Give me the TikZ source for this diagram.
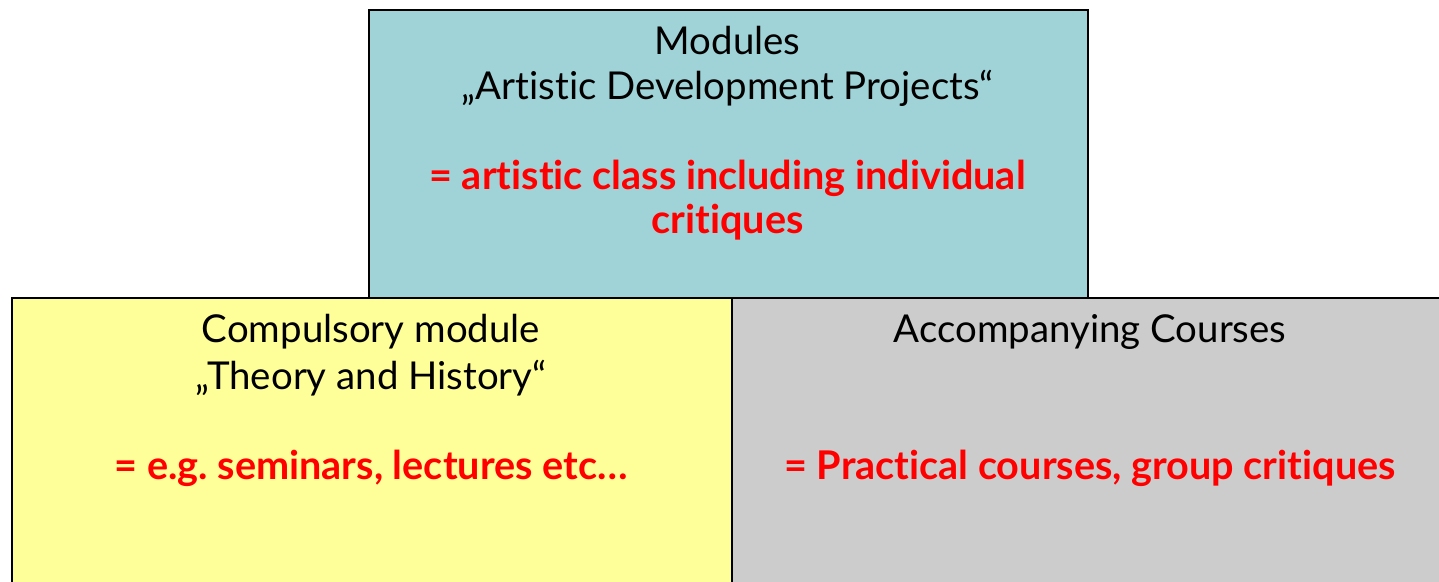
\documentclass[tikz,border=0pt]{standalone}
\usepackage{fontspec}
\setmainfont{Lato}[Ligatures={NoCommon}]
\frenchspacing
\definecolor{tealbox}{HTML}{9FD3D7}
\definecolor{yellowbox}{HTML}{FFFF99}
\definecolor{graybox}{HTML}{CCCCCC}
\definecolor{redtext}{HTML}{FF0000}
\begin{document}
\begin{tikzpicture}[x=0.5pt,y=-0.5pt,
  box/.style={draw=black, line width=1pt, inner sep=0pt, anchor=north west},
  plain/.style={anchor=base, inner sep=0pt, font=\fontsize{19.2}{22}\selectfont},
  redline/.style={plain, text=redtext, font=\fontsize{19.8}{22}\selectfont\bfseries}]
\useasboundingbox (0,0) rectangle (1439,582);
\clip (0,0) rectangle (1439,582);
\node[box, fill=tealbox, minimum width=359.5pt, minimum height=144pt] (top) at (368,9) {};
\node[box, fill=yellowbox, minimum width=360pt, minimum height=160pt] (left) at (11,297) {};
\node[box, fill=graybox, minimum width=360pt, minimum height=160pt] (right) at (731,297) {};
% top texts
\node[plain] (t1) at (727.5,55) {Modules};
\node[plain] (t2) at (727.5,100) {„Artistic Development Projects“};
\node[redline] (t3) at (727.5,190) {= artistic class including individual};
\node[redline] (t4) at (727.5,234) {critiques};
% left texts
\node[plain] (l1) at (371,343) {Compulsory module};
\node[plain] (l2) at (371,389) {„Theory and History“};
\node[redline] (l3) at (371,479) {= e.g.\ seminars, lectures etc…};
% right texts
\node[plain] (r1) at (1090,343) {Accompanying Courses};
\node[redline] (r2) at (1090,479) {= Practical courses, group critiques};
\end{tikzpicture}
\end{document}
